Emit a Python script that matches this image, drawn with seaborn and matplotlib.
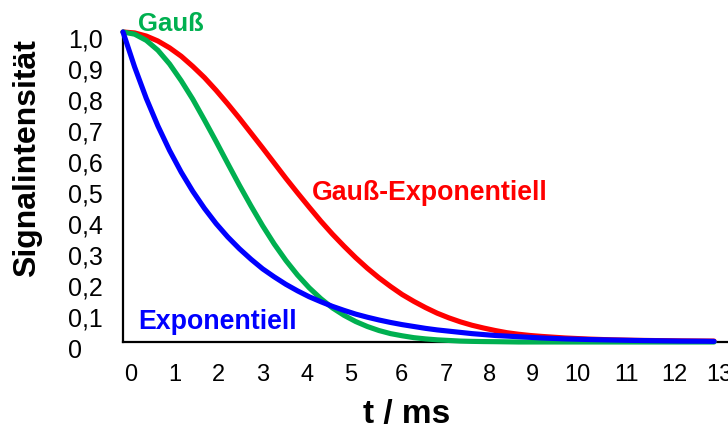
import numpy as np
import pandas as pd
import matplotlib
matplotlib.use("Agg")
import matplotlib.pyplot as plt
import matplotlib.transforms as mtransforms
import seaborn as sns

# ---- data ----
t_ms = [0, 0.25, 0.5, 0.75, 1, 1.25, 1.5, 1.75, 2, 2.25, 2.5, 2.75, 3, 3.25, 3.5,
        3.75, 4, 4.25, 4.5, 4.75, 5, 5.25, 5.5, 5.75, 6, 6.25, 6.5, 6.75, 7, 7.25,
        7.5, 7.75, 8, 8.25, 8.5, 8.75, 9, 9.5, 10, 10.5, 11, 11.5, 12, 12.5, 12.7]
exponentiell = [1.000, 0.887, 0.786, 0.697, 0.618, 0.548, 0.486, 0.431, 0.382, 0.339,
                0.301, 0.267, 0.236, 0.210, 0.186, 0.165, 0.146, 0.130, 0.115, 0.102,
                0.090, 0.080, 0.071, 0.063, 0.056, 0.050, 0.044, 0.039, 0.035, 0.031,
                0.027, 0.024, 0.021, 0.019, 0.017, 0.015, 0.013, 0.010, 0.008, 0.0064,
                0.005, 0.004, 0.003, 0.0025, 0.002]
gauss = [1.000, 0.993, 0.973, 0.941, 0.897, 0.843, 0.783, 0.716, 0.647, 0.576,
         0.506, 0.439, 0.375, 0.316, 0.263, 0.216, 0.175, 0.140, 0.110, 0.086,
         0.066, 0.050, 0.037, 0.027, 0.020, 0.014, 0.010, 0.007, 0.005, 0.003,
         0.002, 0.0014, 0.001, 0.0005, 0.0, 0.0, 0.0, 0.0, 0.0, 0.0,
         0.0, 0.0, 0.0, 0.0, 0.0]
gauss_exponentiell = [1.000, 0.997, 0.987, 0.971, 0.949, 0.922, 0.889, 0.853, 0.812, 0.768,
                      0.722, 0.674, 0.626, 0.577, 0.528, 0.481, 0.435, 0.390, 0.348, 0.309,
                      0.272, 0.238, 0.207, 0.179, 0.153, 0.131, 0.111, 0.093, 0.078, 0.065,
                      0.054, 0.045, 0.037, 0.030, 0.025, 0.021, 0.018, 0.013, 0.0095, 0.007,
                      0.0055, 0.0045, 0.0035, 0.003, 0.003]

x_ticks = list(range(0, 14))
x_tick_labels = [str(v) for v in x_ticks]
y_ticks = [0, 0.1, 0.2, 0.3, 0.4, 0.5, 0.6, 0.7, 0.8, 0.9, 1.0]
y_tick_labels = ["0", "0,1", "0,2", "0,3", "0,4", "0,5", "0,6", "0,7", "0,8", "0,9", "1,0"]

series_names = ["Gauß-Exponentiell", "Gauß", "Exponentiell"]
series_values = [gauss_exponentiell, gauss, exponentiell]

# ---- style ----
colors = {"Gauß-Exponentiell": "#FF0000", "Gauß": "#00B050", "Exponentiell": "#0000FF"}
xlabel_shift_px = [8, 5, 2, 0, -2, -5, -1, -2, -6, -9, -11, -8, -7, -9]

sns.set_style("white")
plt.rcParams["font.family"] = ["Liberation Sans", "DejaVu Sans"]
plt.rcParams["text.color"] = "black"
plt.rcParams["axes.labelcolor"] = "black"
plt.rcParams["xtick.color"] = "black"
plt.rcParams["ytick.color"] = "black"

df = pd.concat([
    pd.DataFrame({"t": t_ms, "S": vals, "Kurve": name})
    for name, vals in zip(series_names, series_values)
], ignore_index=True)

fig = plt.figure(figsize=(7.28, 4.30), dpi=100)
ax = fig.add_axes([123 / 728, 88 / 430, 605 / 728, 310 / 430])

for name in series_names:
    sub = df[df["Kurve"] == name]
    sns.lineplot(data=sub, x="t", y="S", ax=ax, color=colors[name], linewidth=3.7,
                 legend=False, clip_on=False, zorder=3, sort=False)
for line in ax.get_lines():
    line.set_solid_joinstyle("round")
    line.set_solid_capstyle("round")

ax.set_xlim(0, 13)
ax.set_ylim(0, 1.0)

for side in ["top", "right"]:
    ax.spines[side].set_visible(False)
for side in ["left", "bottom"]:
    ax.spines[side].set_color("black")
    ax.spines[side].set_linewidth(1.6)

ax.set_xticks(x_ticks)
ax.set_xticklabels(x_tick_labels, fontsize=17, color="black")
ax.set_yticks(y_ticks)
ax.set_yticklabels(y_tick_labels, fontsize=18, color="black")
ax.tick_params(axis="x", direction="inout", length=9, width=1.6, color="black", pad=11)
ax.tick_params(axis="y", direction="out", length=4, width=1.6, color="black", pad=9)

for lab in ax.get_yticklabels():
    lab.set_horizontalalignment("left")
    lab.set_transform(lab.get_transform() +
                      mtransforms.ScaledTranslation(-37 / 100, -6 / 100, fig.dpi_scale_trans))
for lab, dx in zip(ax.get_xticklabels(), xlabel_shift_px):
    lab.set_transform(lab.get_transform() +
                      mtransforms.ScaledTranslation(dx / 100, 0, fig.dpi_scale_trans))

ax.set_xlabel("t / ms", fontsize=24, fontweight="bold", color="black")
ax.xaxis.label.set_va("center")
ax.xaxis.set_label_coords(0.469, -0.235)
ax.set_ylabel("Signalintensität", fontsize=23, fontweight="bold", color="black")
ax.yaxis.label.set_va("center")
ax.yaxis.set_label_coords(-0.159, 0.594)

ax.text(0.32, 1.026, "Gauß", color=colors["Gauß"], fontsize=18.5, fontweight="bold",
        ha="left", va="center", clip_on=False)
ax.text(4.06, 0.48, "Gauß-Exponentiell", color=colors["Gauß-Exponentiell"], fontsize=19.3,
        fontweight="bold", ha="left", va="center")
ax.text(0.32, 0.063, "Exponentiell", color=colors["Exponentiell"], fontsize=19.3,
        fontweight="bold", ha="left", va="center")

fig.savefig("out.png", dpi=100)
